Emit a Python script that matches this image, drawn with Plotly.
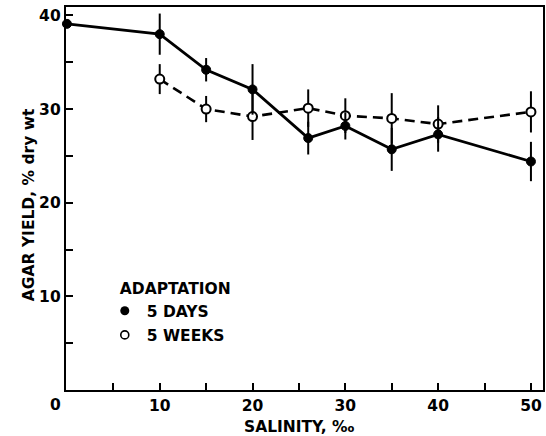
import plotly.graph_objects as go

# Agar yield vs. salinity for two adaptation periods
salinity_days = [0, 10, 15, 20, 26, 30, 35, 40, 50]
yield_days = [39.1, 38.0, 34.2, 32.1, 26.9, 28.2, 25.7, 27.3, 24.4]
err_days = [0, 2.2, 1.25, 2.7, 1.75, 1.45, 2.3, 1.85, 2.1]

salinity_weeks = [10, 15, 20, 26, 30, 35, 40, 50]
yield_weeks = [33.2, 30.0, 29.2, 30.1, 29.3, 29.0, 28.4, 29.7]
err_weeks = [1.6, 1.4, 2.5, 2.0, 1.85, 2.7, 2.0, 2.2]

x_tick_vals = [10, 20, 30, 40, 50]
y_tick_vals = [10, 20, 30, 40]

FONT = "DejaVu Sans, Verdana, sans-serif"
FSIZE = 15.5
W, H = 546, 436
L, R, T, B = 66, 1, 7, 46
PW, PH = W - L - R, H - T - B


def px_x(px):
    return (px - L) / PW


def px_y(py):
    return (H - B - py) / PH


fig = go.Figure()

fig.add_trace(go.Scatter(
    x=salinity_weeks, y=yield_weeks, mode="lines+markers",
    line=dict(color="black", width=2.6, dash="10px,6px"),
    marker=dict(symbol="circle", size=9, color="white",
                line=dict(color="black", width=2)),
    error_y=dict(type="data", array=err_weeks, visible=True,
                 color="black", thickness=2, width=0),
    showlegend=False, cliponaxis=False,
))

fig.add_trace(go.Scatter(
    x=salinity_days, y=yield_days, mode="lines+markers",
    line=dict(color="black", width=2.8),
    marker=dict(symbol="circle", size=9, color="black",
                line=dict(color="black", width=1)),
    error_y=dict(type="data", array=err_days, visible=True,
                 color="black", thickness=2, width=0),
    showlegend=False, cliponaxis=False,
))

# legend entries (markers only)
fig.add_trace(go.Scatter(
    x=[None], y=[None], mode="markers", name="5 DAYS",
    marker=dict(symbol="circle", size=9, color="black"),
    legendgroup="a",
))
fig.add_trace(go.Scatter(
    x=[None], y=[None], mode="markers", name="5 WEEKS",
    marker=dict(symbol="circle", size=8, color="white",
                line=dict(color="black", width=1.6)),
    legendgroup="b",
))

label_font = dict(family=FONT, size=FSIZE, color="black", weight="bold")

axis_common = dict(
    showgrid=False, zeroline=False, showline=True, linecolor="black",
    linewidth=2.4, mirror=True, ticks="inside", ticklen=7, tickwidth=2,
    tickcolor="black", tickfont=label_font,
)

fig.update_xaxes(
    range=[-0.1, 51.3], tickvals=x_tick_vals,
    minor=dict(dtick=5, tick0=0, ticks="inside", ticklen=7, tickwidth=2,
               tickcolor="black"),
    **axis_common,
)
fig.update_yaxes(
    range=[0, 40.9], tickvals=y_tick_vals,
    minor=dict(dtick=5, tick0=0, ticks="inside", ticklen=7, tickwidth=2,
               tickcolor="black"),
    **axis_common,
)

fig.add_annotation(text="0", xref="paper", yref="paper",
                   x=px_x(55), y=px_y(405), showarrow=False,
                   xanchor="center", yanchor="middle", font=label_font)
fig.add_annotation(text="SALINITY, ‰", xref="paper", yref="paper",
                   x=px_x(300), y=px_y(427), showarrow=False,
                   xanchor="center", yanchor="middle", font=label_font)
fig.add_annotation(text="AGAR YIELD, % dry wt", xref="paper", yref="paper",
                   x=px_x(29), y=px_y(205), showarrow=False, textangle=-90,
                   xanchor="center", yanchor="middle", font=label_font)

fig.update_layout(
    width=W, height=H,
    margin=dict(l=L, r=R, t=T, b=B),
    paper_bgcolor="white", plot_bgcolor="white",
    legend=dict(
        title=dict(text="ADAPTATION", font=label_font),
        x=px_x(118), y=px_y(274), xanchor="left", yanchor="top",
        bgcolor="rgba(0,0,0,0)", font=label_font,
        traceorder="grouped", tracegroupgap=1, indentation=-15,
        itemwidth=34,
    ),
)

fig.write_html("out.html")
